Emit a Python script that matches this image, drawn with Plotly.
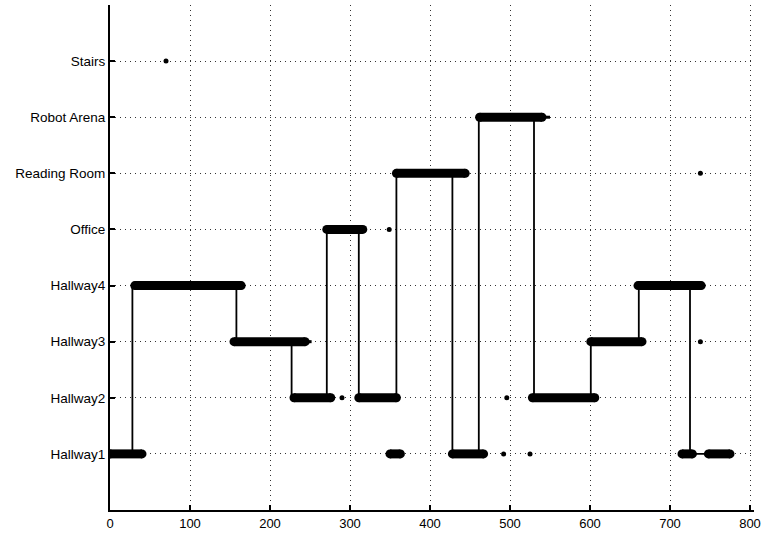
import plotly.graph_objects as go

# Location categories (y levels 1..8)
locations = ["Hallway1", "Hallway2", "Hallway3", "Hallway4", "Office",
             "Reading Room", "Robot Arena", "Stairs"]
loc_level = {name: i + 1 for i, name in enumerate(locations)}

# Transition path (time, location)
path_t = [0, 28, 28, 158, 158, 227, 227, 271, 271, 311, 311, 358, 358, 428, 428,
          461, 461, 530, 530, 601, 601, 661, 661, 725, 725, 775]
path_loc = ["Hallway1", "Hallway1", "Hallway4", "Hallway4", "Hallway3", "Hallway3",
            "Hallway2", "Hallway2", "Office", "Office", "Hallway2", "Hallway2",
            "Reading Room", "Reading Room", "Hallway1", "Hallway1", "Robot Arena",
            "Robot Arena", "Hallway2", "Hallway2", "Hallway3", "Hallway3",
            "Hallway4", "Hallway4", "Hallway1", "Hallway1"]

# Dense classification runs (start, end, location)
run_start = [0, 31, 155, 230, 271, 311, 350, 358, 428, 462, 528, 601, 660, 715, 748]
run_end = [40, 164, 244, 276, 316, 358, 363, 444, 467, 540, 606, 665, 739, 728, 775]
run_loc = ["Hallway1", "Hallway4", "Hallway3", "Hallway2", "Office", "Hallway2",
           "Hallway1", "Reading Room", "Hallway1", "Robot Arena", "Hallway2",
           "Hallway3", "Hallway4", "Hallway1", "Hallway1"]

# Thin tails
tail_start = [244, 540, 739]
tail_end = [252, 550, 744]
tail_loc = ["Hallway3", "Robot Arena", "Hallway4"]

# Isolated outlier classifications
dot_t = [70, 290, 349, 492, 496, 525, 738, 738]
dot_loc = ["Stairs", "Hallway2", "Office", "Hallway1", "Hallway2", "Hallway1",
           "Reading Room", "Hallway3"]

x_ticks = [0, 100, 200, 300, 400, 500, 600, 700, 800]

fig = go.Figure()

fig.add_trace(go.Scatter(x=path_t, y=[loc_level[l] for l in path_loc], mode="lines",
                         line=dict(color="black", width=1.8), showlegend=False,
                         hoverinfo="skip"))

for s, e, l in zip(run_start, run_end, run_loc):
    y = loc_level[l]
    fig.add_trace(go.Scatter(x=[s, e], y=[y, y], mode="lines+markers",
                             line=dict(color="black", width=9),
                             marker=dict(color="black", size=9),
                             showlegend=False))

for s, e, l in zip(tail_start, tail_end, tail_loc):
    y = loc_level[l]
    fig.add_trace(go.Scatter(x=[s, e], y=[y, y], mode="lines",
                             line=dict(color="black", width=3), showlegend=False))

fig.add_trace(go.Scatter(x=dot_t, y=[loc_level[l] for l in dot_loc], mode="markers",
                         marker=dict(color="black", size=5, symbol="circle"),
                         showlegend=False))

grid_kw = dict(showgrid=True, gridcolor="rgba(0,0,0,0.8)", griddash="1px,4px", gridwidth=1)

fig.update_layout(
    width=762, height=533,
    margin=dict(l=110, r=1, t=5, b=23),
    plot_bgcolor="white", paper_bgcolor="white",
    font=dict(family="Liberation Sans, Arial, sans-serif", size=13, color="black"),
    xaxis=dict(range=[0, 805], tickvals=x_ticks, ticks="inside", ticklen=5,
               tickwidth=1.5, tickcolor="black", ticklabeloverflow="allow",
               showline=True, linecolor="black", linewidth=2, zeroline=False,
               tickfont=dict(size=13), **grid_kw),
    yaxis=dict(range=[0, 9], tickvals=list(range(1, 9)), ticktext=locations,
               ticks="inside", ticklen=5, tickwidth=1.5, tickcolor="black",
               showline=True, linecolor="black", linewidth=2, zeroline=False,
               tickfont=dict(size=13.5), **grid_kw),
)

fig.write_html("out.html", config={"displayModeBar": False},
               post_script="document.body.style.margin='0';document.body.style.overflow='hidden';")
